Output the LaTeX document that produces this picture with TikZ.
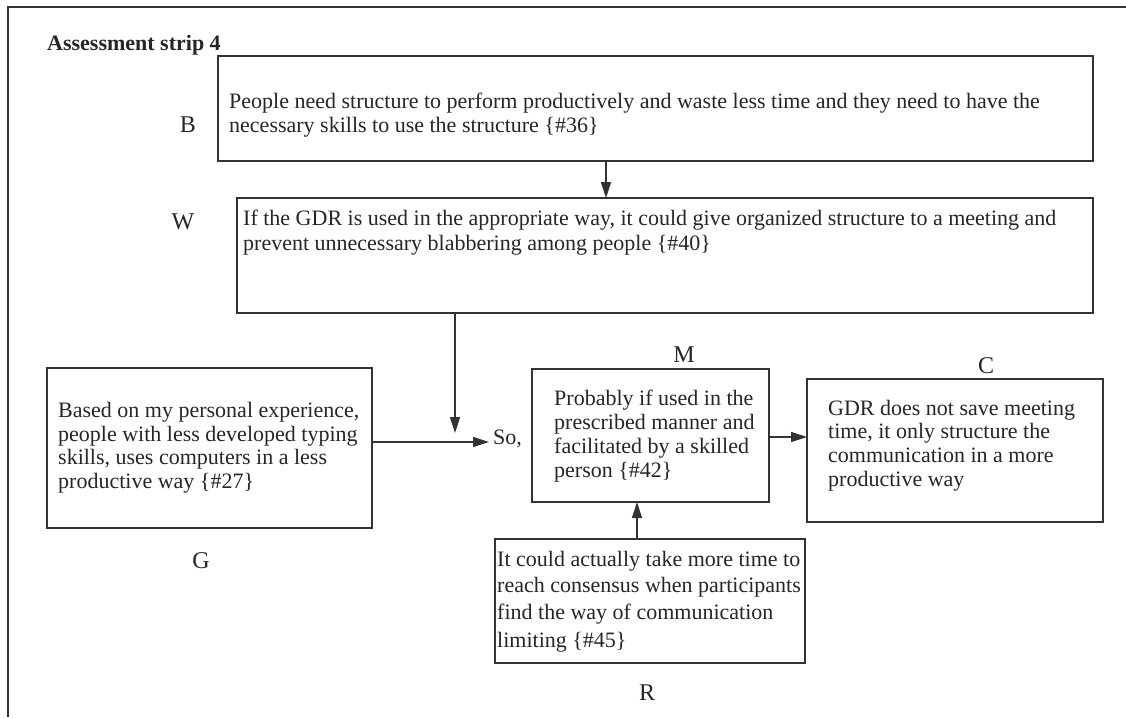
\documentclass[tikz,border=0pt]{standalone}
\usepackage{fontspec}
\setmainfont{Liberation Serif}
\usetikzlibrary{arrows.meta}
\definecolor{ink}{HTML}{262626}
\definecolor{lin}{HTML}{333333}
\tikzset{
  box/.style={draw=lin, line width=1.3pt, rectangle, anchor=north west, inner sep=0pt, outer sep=0pt},
  txt/.style={anchor=base west, inner sep=0pt, text=ink, font=\fontsize{22}{25}\selectfont},
  lbl/.style={anchor=base, inner sep=0pt, text=ink, font=\fontsize{24}{27}\selectfont},
  arr/.style={draw=lin, line width=1.3pt, -{Triangle[length=16pt,width=10pt]}},
  frame/.style={draw=lin, line width=1.8pt}
}
\begin{document}
\begin{tikzpicture}[x=1pt,y=-1pt]
\useasboundingbox[fill=white] (0,0) rectangle (1126,717);
% frame (cropped)
\coordinate (f1) at (8,717);
\coordinate (f2) at (8,7);
\coordinate (f3) at (1126,7);
\draw[frame] (f1) -- (f2) -- (f3);
% title
\node[txt, font=\fontsize{22}{25}\selectfont\bfseries] (title) at (47,51) {Assessment strip 4};
% boxes
\node[box, minimum width=875pt, minimum height=105pt] (B) at (218,56) {};
\node[box, minimum width=856pt, minimum height=115pt] (W) at (237,198) {};
\node[box, minimum width=325pt, minimum height=160pt] (G) at (47,368) {};
\node[box, minimum width=237pt, minimum height=133pt] (M) at (532,369) {};
\node[box, minimum width=296pt, minimum height=143pt] (C) at (807,379) {};
\node[box, minimum width=310pt, minimum height=124pt] (R) at (495,539) {};
% labels
\node[lbl] (lB) at (188,132) {B};
\node[lbl] (lW) at (183,229) {W};
\node[lbl] (lG) at (201,568) {G};
\node[lbl] (lM) at (684,362) {M};
\node[lbl] (lC) at (986,373) {C};
\node[lbl] (lR) at (647,700) {R};
% texts
\node[txt] (b1) at (229,108) {People need structure to perform productively and waste less time and they need to have the};
\node[txt] (b2) at (229,132) {necessary skills to use the structure \{\#36\}};
\node[txt] (w1) at (243,225) {If the GDR is used in the appropriate way, it could give organized structure to a meeting and};
\node[txt] (w2) at (243,250) {prevent unnecessary blabbering among people \{\#40\}};
\node[txt] (g1) at (58,417) {Based on my personal experience,};
\node[txt] (g2) at (58,441) {people with less developed typing};
\node[txt] (g3) at (58,464) {skills, uses computers in a less};
\node[txt] (g4) at (58,488) {productive way \{\#27\}};
\node[txt] (m1) at (554,405) {Probably if used in the};
\node[txt] (m2) at (554,429) {prescribed manner and};
\node[txt] (m3) at (554,453) {facilitated by a skilled};
\node[txt] (m4) at (554,477) {person \{\#42\}};
\node[txt] (c1) at (828,415) {GDR does not save meeting};
\node[txt] (c2) at (828,438) {time, it only structure the};
\node[txt] (c3) at (828,462) {communication in a more};
\node[txt] (c4) at (828,486) {productive way};
\node[txt] (r1) at (497,566) {It could actually take more time to};
\node[txt] (r2) at (497,592) {reach consensus when participants};
\node[txt] (r3) at (497,619) {find the way of communication};
\node[txt] (r4) at (497,647) {limiting \{\#45\}};
\node[txt] (so) at (493,444) {So,};
% connectors
\coordinate (bw) at (606,0);
\draw[arr] (B.south -| bw) -- (W.north -| bw);
\coordinate (wtip) at (455,433);
\draw[arr] (W.south -| wtip) -- (wtip);
\coordinate (gso) at (489,442);
\draw[arr] (G.east |- gso) -- (gso);
\coordinate (mc) at (0,437);
\draw[arr] (M.east |- mc) -- (C.west |- mc);
\coordinate (rm) at (637,0);
\draw[arr] (R.north -| rm) -- (M.south -| rm);
\end{tikzpicture}
\end{document}
